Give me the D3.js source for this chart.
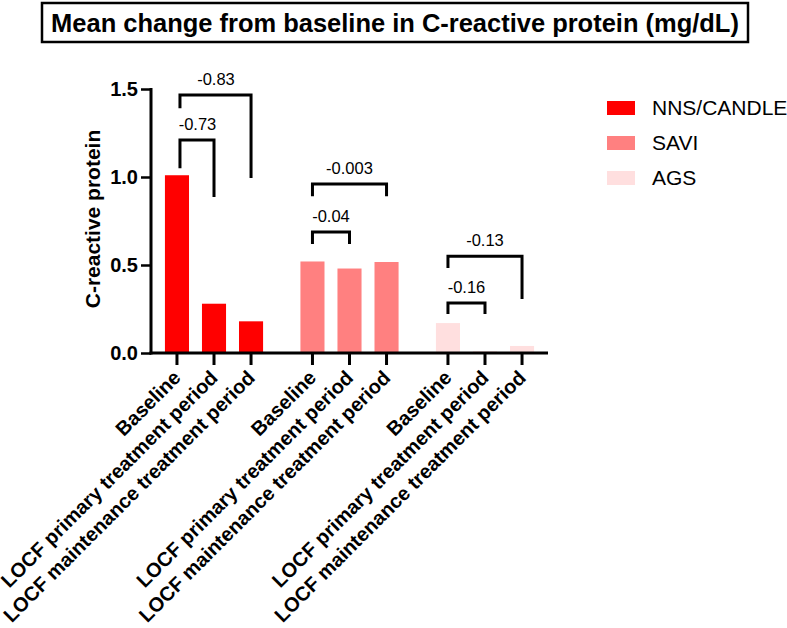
<!DOCTYPE html>
<html><head><meta charset="utf-8">
<script src="https://cdn.jsdelivr.net/npm/d3@7"></script>
<style>body{margin:0;background:#fff}svg{display:block}</style>
</head><body>
<script>
// ---- data ----
const groups = ["NNS/CANDLE", "SAVI", "AGS"];
const timepoints = ["Baseline", "LOCF primary treatment period", "LOCF maintenance treatment period"];
const nnsValues = [1.01, 0.28, 0.18];
const saviValues = [0.52, 0.48, 0.517];
const agsValues = [0.17, 0.01, 0.04];
const groupColors = ["#ff0000", "#ff8080", "#ffdfdf"];
const yTicks = [0.0, 0.5, 1.0, 1.5];
// comparisons: group, from timepoint, to timepoint, label, bracket level, leg ends (value units)
const compGroup = [0, 0, 1, 1, 2, 2];
const compFrom = [0, 0, 0, 0, 0, 0];
const compTo = [1, 2, 1, 2, 1, 2];
const compLabel = ["-0.73", "-0.83", "-0.04", "-0.003", "-0.16", "-0.13"];
const compLevel = [1.21, 1.466, 0.6875, 0.96, 0.284, 0.55];
const compLegFrom = [1.05, 1.39, 0.62, 0.89, 0.222, 0.483];
const compLegTo = [0.886, 0.994, 0.62, 0.89, 0.222, 0.307];

const seriesValues = [nnsValues, saviValues, agsValues];

const W = 787, H = 628;
const svg = d3.select("body").append("svg").attr("width", W).attr("height", H);
const font = "'Liberation Sans', Arial, Helvetica, sans-serif";

const y = d3.scaleLinear().domain([0, 1.5]).range([353, 89]);
const xOuter = d3.scaleBand().domain(groups).range([151, 548]).paddingInner(0.18).paddingOuter(0.055);
const xInner = d3.scaleBand().domain(timepoints).range([0, xOuter.bandwidth()]).paddingInner(0.35).paddingOuter(0.175);
const cx = (g, t) => xOuter(groups[g]) + xInner(timepoints[t]) + xInner.bandwidth() / 2;

// title
svg.append("rect").attr("x", 42).attr("y", 3).attr("width", 706).attr("height", 39)
  .attr("fill", "none").attr("stroke", "#000").attr("stroke-width", 2.5);
const title = svg.append("text").attr("x", 395).attr("y", 32).attr("text-anchor", "middle")
  .attr("font-family", font).attr("font-weight", "bold").attr("font-size", 22)
  .text("Mean change from baseline in C-reactive protein (mg/dL)");
const tl = title.node().getComputedTextLength();
title.attr("font-size", 22 * 688 / tl);

// bars
const bars = [];
seriesValues.forEach((vals, g) => vals.forEach((v, t) => bars.push({g, t, v})));
svg.append("g").selectAll("rect").data(bars).join("rect")
  .attr("x", d => xOuter(groups[d.g]) + xInner(timepoints[d.t]))
  .attr("width", xInner.bandwidth())
  .attr("y", d => y(d.v))
  .attr("height", d => y(0) - y(d.v))
  .attr("fill", d => groupColors[d.g]);

// y axis
const yAxis = d3.axisLeft(y).tickValues(yTicks).tickFormat(d3.format(".1f")).tickSize(10).tickPadding(3);
const ya = svg.append("g").attr("transform", "translate(151,0)").call(yAxis);
ya.select(".domain").attr("stroke-width", 3).attr("d", `M0,${y(1.5)-1}V${y(0)+1.5}`);
ya.selectAll(".tick line").attr("stroke-width", 2.5);
ya.selectAll("text").attr("font-family", font).attr("font-weight", "bold").attr("font-size", 20).attr("fill", "#000");

svg.append("text").attr("transform", `translate(99.5,219) rotate(-90)`)
  .attr("text-anchor", "middle").attr("font-family", font).attr("font-weight", "bold").attr("font-size", 21)
  .text("C-reactive protein");

// x axis
svg.append("line").attr("x1", 149.5).attr("x2", 548).attr("y1", y(0)).attr("y2", y(0))
  .attr("stroke", "#000").attr("stroke-width", 3);
const ticks = [];
groups.forEach((gname, g) => timepoints.forEach((tp, t) => ticks.push({g, t, label: tp})));
const tg = svg.append("g").selectAll("g").data(ticks).join("g")
  .attr("transform", d => `translate(${cx(d.g, d.t)},${y(0)})`);
tg.append("line").attr("y1", 0).attr("y2", 12).attr("stroke", "#000").attr("stroke-width", 3);
tg.append("text").attr("transform", "translate(5,26) rotate(-45)")
  .attr("text-anchor", "end").attr("font-family", font).attr("font-weight", "bold").attr("font-size", 20)
  .text(d => d.label);

// comparison brackets
const comps = compGroup.map((g, i) => ({g, from: compFrom[i], to: compTo[i], label: compLabel[i], level: compLevel[i], l1: compLegFrom[i], l2: compLegTo[i]}));
const cg = svg.append("g").selectAll("g").data(comps).join("g");
cg.append("path")
  .attr("d", d => {
    const x1 = cx(d.g, d.from) + (d.g === 0 ? 3 : 0), x2 = cx(d.g, d.to);
    return `M${x1},${y(d.l1)}V${y(d.level)}H${x2}V${y(d.l2)}`;
  })
  .attr("fill", "none").attr("stroke", "#000").attr("stroke-width", 3);
cg.append("text")
  .attr("x", d => (cx(d.g, d.from) + cx(d.g, d.to)) / 2 + (d.g === 0 ? 2 : 0))
  .attr("y", d => y(d.level) - 10)
  .attr("text-anchor", "middle").attr("font-family", font).attr("font-size", 16.5)
  .text(d => d.label);

// legend
const lg = svg.append("g").selectAll("g").data(groups).join("g")
  .attr("transform", (d, i) => `translate(607,${101 + i * 35})`);
lg.append("rect").attr("width", 28).attr("height", 14).attr("fill", (d, i) => groupColors[i]);
lg.append("text").attr("x", 45).attr("y", 14).attr("font-family", font).attr("font-size", 21).text(d => d);
</script>
</body></html>
